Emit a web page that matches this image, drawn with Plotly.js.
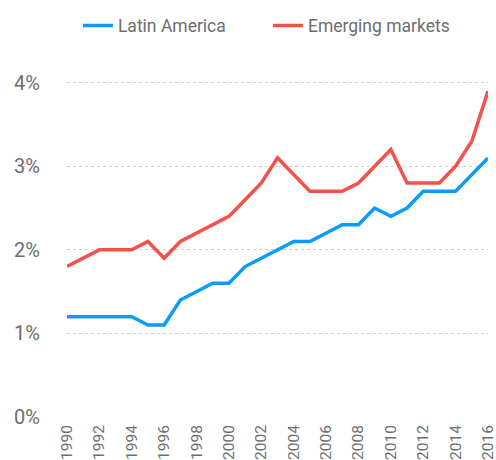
<!DOCTYPE html>
<html>
<head>
<meta charset="utf-8">
<script src="https://cdn.plot.ly/plotly-3.0.1.min.js"></script>
<style>html,body{margin:0;padding:0;background:#fff;}#chart{width:496px;height:460px;}</style>
</head>
<body>
<div id="chart"></div>
<script>
var years = [1990,1991,1992,1993,1994,1995,1996,1997,1998,1999,2000,2001,2002,2003,2004,2005,2006,2007,2008,2009,2010,2011,2012,2013,2014,2015,2016];
var latinAmerica = [1.2,1.2,1.2,1.2,1.2,1.1,1.1,1.4,1.5,1.6,1.6,1.8,1.9,2.0,2.1,2.1,2.2,2.3,2.3,2.5,2.4,2.5,2.7,2.7,2.7,2.9,3.1];
var emergingMarkets = [1.8,1.9,2.0,2.0,2.0,2.1,1.9,2.1,2.2,2.3,2.4,2.6,2.8,3.1,2.9,2.7,2.7,2.7,2.8,3.0,3.2,2.8,2.8,2.8,3.0,3.3,3.9];
var xTicks = [1990,1992,1994,1996,1998,2000,2002,2004,2006,2008,2010,2012,2014,2016];
var yTicks = [0,1,2,3,4];
var yTickLabels = ['0%','1%','2%','3%','4%'];

var font = {family: 'Roboto, "DejaVu Sans", sans-serif', color: '#6e6e6e'};

var traces = [
  {x: years, y: latinAmerica, name: 'Latin America', type: 'scatter', mode: 'lines',
   line: {color: '#0a9bff', width: 3.5}},
  {x: years, y: emergingMarkets, name: 'Emerging markets', type: 'scatter', mode: 'lines',
   line: {color: '#f5514b', width: 3.5}}
];

var layout = {
  width: 496, height: 460,
  margin: {l: 67, r: 8, t: 74, b: 43},
  paper_bgcolor: '#fff', plot_bgcolor: '#fff',
  font: font,
  showlegend: true,
  legend: {orientation: 'h', x: 0.026, xanchor: 'left', y: 1.165, yanchor: 'middle',
    font: {family: font.family, color: '#6e6e6e', size: 17.5},
    entrywidth: 145, entrywidthmode: 'pixels', itemgap: 0},
  xaxis: {range: [1990, 2016], tickvals: xTicks, ticktext: xTicks.map(String),
    tickangle: -90, showgrid: false, zeroline: false, showline: false, ticks: '',
    tickfont: {family: font.family, color: '#6e6e6e', size: 15.5}, ticklabelstandoff: 4,
    ticklabeloverflow: 'allow', fixedrange: true},
  yaxis: {range: [0, 4.02], tickvals: yTicks, ticktext: yTickLabels,
    showgrid: true, gridcolor: '#cfcfcf', griddash: 'dot', gridwidth: 1,
    zeroline: false, showline: false, ticks: '',
    tickfont: {family: font.family, color: '#6e6e6e', size: 20}, ticklabelstandoff: 26,
    fixedrange: true}
};

Plotly.newPlot('chart', traces, layout, {displayModeBar: false, staticPlot: true});
</script>
</body>
</html>
